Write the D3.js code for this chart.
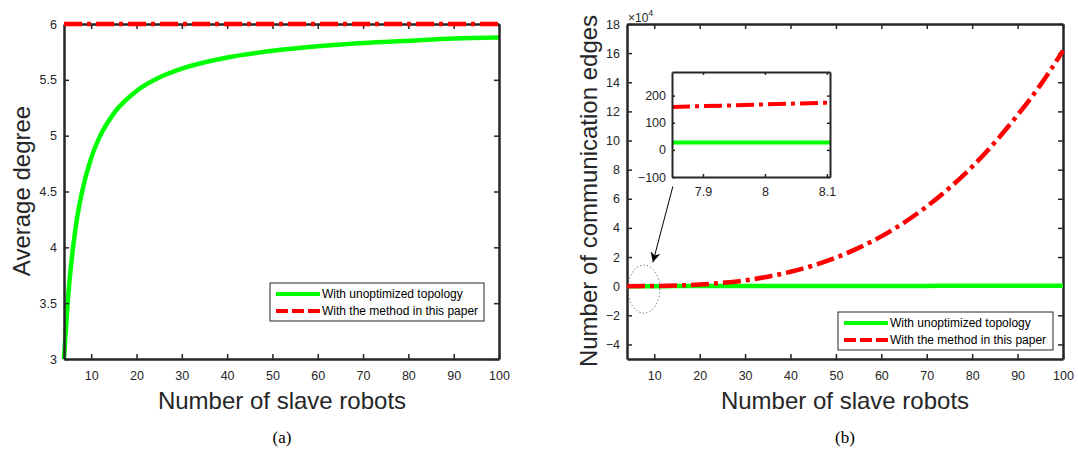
<!DOCTYPE html>
<html lang="en">
<head>
  <meta charset="UTF-8">
  <title>Average degree and communication edges</title>
  <style>
    body { margin: 0; background: #fff; }
    svg { display: block; }
    .tick text { font-family: "Liberation Sans", Arial, sans-serif; font-size: 12.5px; fill: #262626; }
    .tick line { stroke: #262626; }
    .domain { stroke: #262626; }
  </style>
  <script src="https://d3js.org/d3.v7.min.js"></script>
</head>
<body>
<svg width="1078" height="449"></svg>
<script>
  // ---- data ----
  // (a) average degree
  const robotsA = [4, 5, 6, 7, 8, 10, 12, 15, 20, 25, 30, 40, 50, 60, 70, 80, 90, 100];
  const degreeUnopt = [3, 3.6, 4, 4.29, 4.5, 4.8, 5, 5.2, 5.4, 5.52, 5.6, 5.7, 5.76, 5.8, 5.83, 5.85, 5.87, 5.88];
  const degreeMethod = [6, 6, 6, 6, 6, 6, 6, 6, 6, 6, 6, 6, 6, 6, 6, 6, 6, 6];

  // (b) communication edges, in units of 1e4
  const robotsB = [4, 10, 15, 20, 25, 30, 35, 40, 45, 50, 55, 60, 65, 70, 75, 80, 85, 90, 95, 100];
  const edgesUnopt = [0, 0.002, 0.004, 0.005, 0.007, 0.008, 0.01, 0.011, 0.013, 0.014, 0.016, 0.017, 0.019, 0.02, 0.022, 0.023, 0.025, 0.026, 0.028, 0.029];
  const edgesMethod = [0, 0.012, 0.045, 0.11, 0.23, 0.4, 0.65, 0.99, 1.42, 1.96, 2.63, 3.42, 4.37, 5.47, 6.75, 8.2, 9.88, 11.75, 13.8, 16.17];

  // (b) inset, zoomed around 8 robots
  const insetX = [7.85, 8.105];
  const insetUnopt = [27, 27];
  const insetMethod = [158, 174];

  const ticksXA = [10, 20, 30, 40, 50, 60, 70, 80, 90, 100];
  const ticksYA = [3, 3.5, 4, 4.5, 5, 5.5, 6];
  const ticksYB = [-4, -2, 0, 2, 4, 6, 8, 10, 12, 14, 16, 18];
  const ticksInsetX = [7.9, 8, 8.1];
  const ticksInsetY = [-100, 0, 100, 200];

  const legendLabels = ["With unoptimized topology", "With the method in this paper"];

  const svg = d3.select("svg");
  const GREEN = "#00ff00", RED = "#ff0000";
  const dashDot = "18,5,4,5";
  const font = "'Liberation Sans', Arial, sans-serif";

  function drawBox(g, x, y, xt, yt, opts) {
    const [x0, x1] = x.range(), [y0, y1] = y.range();
    const tl = opts.tick || 5;
    g.append("g").attr("transform", `translate(0,${y0})`)
      .call(d3.axisBottom(x).tickValues(xt).tickSizeInner(-tl).tickSizeOuter(0)
        .tickPadding(opts.xpad).tickFormat(opts.xfmt || d3.format("")));
    g.append("g").attr("transform", `translate(0,${y1})`)
      .call(d3.axisTop(x).tickValues(xt).tickSizeInner(-tl).tickSizeOuter(0).tickFormat(""));
    g.append("g").attr("transform", `translate(${x0},0)`)
      .call(d3.axisLeft(y).tickValues(yt).tickSizeInner(-tl).tickSizeOuter(0)
        .tickPadding(opts.ypad).tickFormat(opts.yfmt || d3.format("")));
    g.append("g").attr("transform", `translate(${x1},0)`)
      .call(d3.axisRight(y).tickValues(yt).tickSizeInner(-tl).tickSizeOuter(0).tickFormat(""));
    g.selectAll(".domain").attr("stroke-width", opts.lw || 2.5);
    g.selectAll(".tick line").attr("stroke-width", 1.5);
  }

  function drawLegend(x0, y0, w, h) {
    const lg = svg.append("g").attr("transform", `translate(${x0},${y0})`);
    lg.append("rect").attr("width", w).attr("height", h)
      .attr("fill", "#fff").attr("stroke", "#262626").attr("stroke-width", 1);
    [GREEN, RED].forEach((c, i) => {
      const yy = 11 + i * 17;
      lg.append("line").attr("x1", 6).attr("x2", 50).attr("y1", yy).attr("y2", yy)
        .attr("stroke", c).attr("stroke-width", 4)
        .attr("stroke-dasharray", i ? "12,4" : null);
      lg.append("text").attr("x", 52).attr("y", yy + 4)
        .attr("font-family", font).attr("font-size", 12).attr("fill", "#000")
        .text(legendLabels[i]);
    });
  }

  function axisLabels(cx, cy, yLabelX, xText, yText, caption) {
    svg.append("text").attr("x", cx).attr("y", 409).attr("text-anchor", "middle")
      .attr("font-family", font).attr("font-size", 24).attr("fill", "#262626").text(xText);
    svg.append("text").attr("transform", `translate(${yLabelX},${cy}) rotate(-90)`)
      .attr("text-anchor", "middle")
      .attr("font-family", font).attr("font-size", 24).attr("fill", "#262626").text(yText);
    svg.append("text").attr("x", cx).attr("y", 443).attr("text-anchor", "middle")
      .attr("font-family", "'Liberation Serif', 'Times New Roman', serif").attr("font-size", 17)
      .attr("fill", "#000").text(caption);
  }

  // ---------- panel (a) ----------
  const xA = d3.scaleLinear().domain([4, 100]).range([64, 499]);
  const yA = d3.scaleLinear().domain([3, 6]).range([359, 24]);
  const gA = svg.append("g");

  const lineA = d3.line().x(d => xA(d[0])).y(d => yA(d[1])).curve(d3.curveMonotoneX);
  gA.append("path").datum(d3.zip(robotsA, degreeUnopt)).attr("d", lineA)
    .attr("fill", "none").attr("stroke", GREEN).attr("stroke-width", 4.5);
  drawBox(gA, xA, yA, ticksXA, ticksYA, { xpad: 12, ypad: 7 });
  gA.append("path").datum(d3.zip(robotsA, degreeMethod)).attr("d", lineA)
    .attr("fill", "none").attr("stroke", RED).attr("stroke-width", 4.5)
    .attr("stroke-dasharray", dashDot);
  drawLegend(270, 283, 214, 38);
  axisLabels(282, 191, 30, "Number of slave robots", "Average degree", "(a)");

  // ---------- panel (b) ----------
  const xB = d3.scaleLinear().domain([4, 100]).range([627, 1063]);
  const yB = d3.scaleLinear().domain([-5, 18]).range([359, 24]);
  const gB = svg.append("g");
  drawBox(gB, xB, yB, ticksXA, ticksYB, { xpad: 12, ypad: 7 });

  const lineB = d3.line().x(d => xB(d[0])).y(d => yB(d[1])).curve(d3.curveMonotoneX);
  gB.append("path").datum(d3.zip(robotsB, edgesUnopt)).attr("d", lineB)
    .attr("fill", "none").attr("stroke", GREEN).attr("stroke-width", 4.5);
  gB.append("path").datum(d3.zip(robotsB, edgesMethod)).attr("d", lineB)
    .attr("fill", "none").attr("stroke", RED).attr("stroke-width", 4.5)
    .attr("stroke-dasharray", dashDot);

  // x10^4 exponent label
  const exp = svg.append("text").attr("x", 628).attr("y", 22)
    .attr("font-family", font).attr("font-size", 12).attr("fill", "#262626");
  exp.append("tspan").text("\u00d710");
  exp.append("tspan").attr("dy", -6).attr("font-size", 9).text("4");

  // dotted ellipse marking the zoomed region and the arrow to the inset
  svg.append("ellipse").attr("cx", xB(7.7)).attr("cy", yB(-0.2))
    .attr("rx", 16).attr("ry", 24)
    .attr("fill", "none").attr("stroke", "#333").attr("stroke-width", 0.9)
    .attr("stroke-dasharray", "1,2.5");
  svg.append("defs").append("marker").attr("id", "arrowhead")
    .attr("viewBox", "0 0 10 10").attr("refX", 10).attr("refY", 5)
    .attr("markerWidth", 12).attr("markerHeight", 10).attr("markerUnits", "userSpaceOnUse")
    .attr("orient", "auto")
    .append("path").attr("d", "M0,0 L10,5 L0,10 L3,5 Z").attr("fill", "#000");
  svg.append("line").attr("x1", xB(14.1)).attr("y1", yB(6.85))
    .attr("x2", xB(9.7)).attr("y2", yB(1.64))
    .attr("stroke", "#000").attr("stroke-width", 1).attr("marker-end", "url(#arrowhead)");

  drawLegend(838, 312, 215, 38);
  axisLabels(845, 191, 597, "Number of slave robots", "Number of communication edges", "(b)");

  // ---------- inset ----------
  const xI = d3.scaleLinear().domain(insetX).range([672, 830]);
  const yI = d3.scaleLinear().domain([-100, 287]).range([177, 72]);
  const gI = svg.append("g");
  gI.append("rect").attr("x", 672).attr("y", 72).attr("width", 158).attr("height", 105).attr("fill", "#fff");
  const lineI = d3.line().x(d => xI(d[0])).y(d => yI(d[1]));
  gI.append("path").datum(d3.zip(insetX, insetUnopt)).attr("d", lineI)
    .attr("fill", "none").attr("stroke", GREEN).attr("stroke-width", 4);
  gI.append("path").datum(d3.zip(insetX, insetMethod)).attr("d", lineI)
    .attr("fill", "none").attr("stroke", RED).attr("stroke-width", 4)
    .attr("stroke-dasharray", dashDot);
  drawBox(gI, xI, yI, ticksInsetX, ticksInsetY, { xpad: 10, ypad: 6, tick: 3, lw: 2 });
</script>
</body>
</html>
